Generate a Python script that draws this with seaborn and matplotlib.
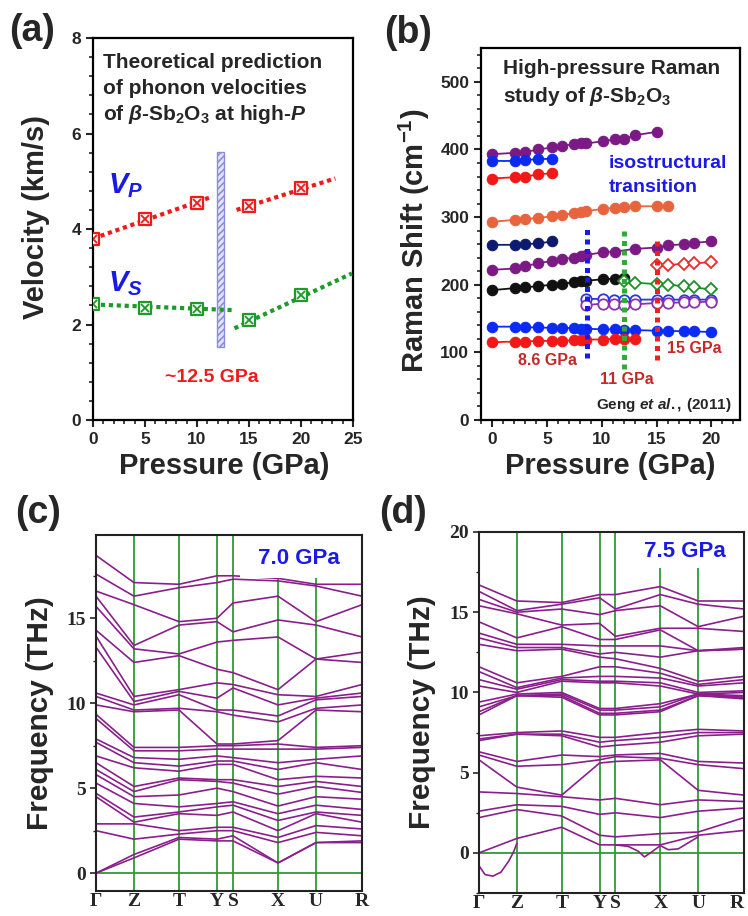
import numpy as np
import pandas as pd
import matplotlib
matplotlib.use("Agg")
import matplotlib.pyplot as plt
from matplotlib.patches import Rectangle
from matplotlib.ticker import MultipleLocator
import seaborn as sns

sns.set_style("ticks")
plt.rcParams["font.family"] = ["Liberation Sans", "DejaVu Sans"]
plt.rcParams["font.weight"] = "bold"
plt.rcParams["mathtext.fontset"] = "custom"
plt.rcParams["mathtext.rm"] = "Liberation Sans:bold"
plt.rcParams["mathtext.it"] = "Liberation Sans:bold:italic"
plt.rcParams["mathtext.bf"] = "Liberation Sans:bold"
plt.rcParams["hatch.linewidth"] = 1.2

# ---------------- (a) phonon velocities ----------------
pressure_a = [0, 5, 10, 15, 20]
v_p = [3.80, 4.20, 4.55, 4.48, 4.85]
v_s = [2.42, 2.35, 2.32, 2.10, 2.62]
# dotted trend segments (below / above the transition)
vp_fit_low_x, vp_fit_low_y = [0, 11.5], [3.80, 4.68]
vp_fit_high_x, vp_fit_high_y = [13.8, 23.3], [4.40, 5.06]
vs_fit_low_x, vs_fit_low_y = [0, 13.6], [2.42, 2.30]
vs_fit_high_x, vs_fit_high_y = [13.6, 24.9], [1.92, 3.07]
transition_p = 12.25
transition_v = [1.52, 5.62]

# ---------------- (b) Raman modes ----------------
p_r1 = [0, 2.1, 3.0, 4.2, 5.5, 6.4, 7.5, 8.1, 8.6, 10.1, 11.2, 12.0, 13.0, 15.0]
r1 = [393, 395, 396, 400, 403, 405, 408, 409, 409, 412, 415, 415, 421, 426]
p_r2 = [0, 2.1, 3.0, 4.2, 5.5]
r2 = [383, 383, 384, 386, 386]
r3 = [357, 359, 360, 363, 365]
r5 = [259, 259, 260, 261, 264]
p_r4 = [0, 2.1, 3.0, 4.2, 5.5, 6.4, 7.5, 8.1, 8.6, 10.1, 11.2, 12.0, 13.0, 15.0, 16.0]
r4 = [293, 296, 297, 299, 301, 303, 306, 307, 309, 312, 314, 315, 316, 316, 316]
p_r6 = [0, 2.1, 3.0, 4.2, 5.5, 6.4, 7.5, 8.1, 8.6, 10.1, 11.2, 13.0, 15.0, 16.0, 17.5, 18.4, 20.0]
r6 = [222, 224, 227, 232, 235, 238, 240, 242, 244, 248, 249, 253, 255, 258, 260, 262, 264]
p_r7 = [0, 2.1, 3.0, 4.2, 5.5, 6.4, 7.5, 8.1, 8.6, 10.1, 11.2, 12.0]
r7 = [192, 195, 196, 198, 200, 201, 204, 205, 206, 208, 209, 210]
p_r8 = [0, 2.1, 3.0, 4.2, 5.5, 6.4, 7.5, 8.1, 8.6, 10.1, 11.2, 12.0, 13.0, 15.0, 16.0, 17.5, 18.4, 20.0]
r8 = [138, 138, 137, 137, 136, 136, 136, 135, 135, 134, 134, 133, 133, 132, 132, 131, 131, 130]
p_r9 = [0, 2.1, 3.0, 4.2, 5.5, 6.4, 7.5, 8.1, 8.6, 10.1, 11.2, 12.0, 13.0]
r9 = [115, 116, 116, 117, 117, 117, 118, 119, 119, 119, 120, 120, 120]
p_open = [8.6, 10.1, 11.1, 12.0, 13.0, 15.0, 16.0, 17.5, 18.4, 20.0]
o1 = [179, 179, 178, 178, 178, 178, 178, 178, 178, 178]
o2 = [170, 172, 172, 170, 171, 173, 173, 174, 174, 175]
p_dia1 = [12.0, 13.0, 15.0, 16.0, 17.5, 18.4, 20.0]
dia1 = [205, 203, 201, 200, 198, 196, 193]
p_dia2 = [15.0, 16.0, 17.5, 18.4, 20.0]
dia2 = [229, 229, 231, 232, 233]
trans_p = [8.7, 12.0, 15.05]
trans_low = [91, 76, 89]
trans_high = [287, 283, 267]
trans_labels = ["8.6 GPa", "11 GPa", "15 GPa"]

# ---------------- (c)/(d) phonon dispersion ----------------
k_labels = ["Γ", "Z", "T", "Y", "S", "X", "U", "R"]
k_pos = [0, 38, 83, 121, 137, 182, 220, 266]

c_G = [18.7, 17.6, 16.6, 16.3, 15.7, 14.3, 13.95, 13.3, 10.6, 10.4, 9.9, 9.35, 9.1,
       7.9, 7.7, 6.9, 6.5, 6.1, 5.8, 5.3, 4.7, 4.5, 2.9, 2.5, 0.0, 0.0]
c_Z = [17.1, 16.3, 15.8, 13.4, 13.2, 12.4, 10.4, 10.1, 9.9, 9.6, 9.5, 7.4, 7.2,
       6.8, 6.5, 6.2, 5.1, 4.8, 4.5, 4.1, 3.3, 3.0, 2.9, 2.0, 1.1, 0.9]
c_T = [17.0, 16.8, 14.8, 14.6, 12.9, 12.8, 10.8, 10.7, 10.5, 9.7, 9.6, 7.4, 7.2,
       6.7, 6.3, 6.0, 5.6, 5.5, 4.6, 3.9, 3.6, 3.5, 2.5, 2.3, 2.1, 2.0]
c_Y = [17.5, 17.1, 15.0, 14.8, 13.6, 12.0, 11.2, 10.3, 9.6, 9.5, 7.6, 7.5, 7.3,
       6.9, 6.6, 6.4, 5.5, 5.4, 5.0, 4.1, 3.9, 3.4, 2.7, 2.5, 2.0, 1.9]
c_S = [17.5, 17.3, 15.9, 14.2, 13.7, 11.8, 11.1, 10.9, 9.6, 9.3, 7.6, 7.5, 7.3,
       6.8, 6.6, 6.4, 5.5, 5.3, 4.8, 4.2, 4.0, 3.6, 2.7, 2.5, 2.2, 1.9]
c_X = [17.35, 17.2, 16.3, 14.9, 13.9, 10.8, 10.5, 9.9, 9.25, 8.9, 7.8, 7.6, 7.3,
       6.5, 6.1, 5.5, 5.1, 4.65, 3.95, 3.5, 3.1, 2.5, 2.1, 1.8, 0.6, 0.6]
c_U = [17.0, 16.9, 14.8, 14.6, 12.6, 12.6, 10.4, 10.3, 10.2, 9.7, 9.6, 7.4, 7.3,
       6.7, 6.5, 5.7, 5.4, 5.1, 4.5, 4.0, 3.6, 3.5, 2.8, 2.4, 1.8, 1.8]
c_R = [17.0, 16.3, 15.8, 13.9, 13.0, 12.4, 11.1, 10.6, 10.4, 9.9, 9.5, 7.5, 7.4,
       6.9, 6.1, 5.6, 5.1, 4.75, 4.35, 3.75, 3.4, 3.0, 2.6, 2.2, 1.9, 1.8]

d_G = [16.7, 16.3, 15.8, 15.4, 14.4, 13.7, 13.4, 13.0, 11.6, 11.3, 10.8, 10.4, 9.4,
       9.1, 8.8, 8.6, 7.3, 7.1, 7.0, 6.3, 6.1, 5.8, 3.8, 2.6, 2.2, 0.0]
d_Z = [15.7, 15.1, 15.0, 14.9, 13.4, 13.0, 12.8, 12.6, 10.6, 10.3, 10.2, 10.0, 9.9,
       9.8, 9.8, 9.8, 7.5, 7.4, 7.4, 5.7, 5.4, 4.1, 3.7, 3.0, 2.7, 0.9]
d_T = [15.6, 15.5, 15.2, 14.2, 14.1, 13.0, 12.8, 12.7, 11.0, 10.9, 10.8, 10.7, 10.0,
       9.9, 9.8, 9.7, 7.6, 7.4, 7.3, 6.1, 5.5, 3.6, 3.5, 2.9, 2.3, 1.6]
d_Y = [16.1, 15.9, 14.85, 14.3, 13.3, 12.9, 12.4, 12.2, 11.6, 11.0, 10.7, 10.6, 9.0,
       8.9, 8.7, 8.6, 7.2, 6.9, 6.6, 6.0, 5.8, 5.6, 3.3, 2.4, 1.1, 0.5]
d_S = [16.1, 15.2, 15.1, 13.5, 13.3, 12.9, 12.5, 12.1, 11.6, 11.0, 10.7, 10.6, 9.0,
       8.9, 8.7, 8.6, 7.2, 7.0, 6.7, 6.1, 6.0, 5.7, 3.4, 2.5, 1.0, 0.5]
d_X = [16.6, 16.1, 15.4, 14.0, 13.9, 12.9, 12.2, 11.5, 11.2, 10.9, 10.6, 10.4, 9.3,
       9.1, 8.9, 8.8, 7.5, 7.2, 6.9, 6.2, 5.9, 5.8, 3.0, 2.2, 1.2, 0.5]
d_U = [15.7, 15.5, 14.1, 14.0, 12.6, 12.6, 12.6, 10.7, 10.5, 10.4, 10.0, 9.9, 9.9,
       9.9, 9.8, 9.8, 7.7, 7.5, 7.3, 5.7, 5.5, 3.9, 3.3, 2.6, 1.3, 1.1]
d_R = [15.7, 15.2, 14.75, 13.8, 12.8, 12.7, 12.7, 11.0, 10.8, 10.6, 10.1, 10.0, 9.8,
       9.7, 9.7, 9.6, 7.6, 7.5, 7.4, 5.6, 5.25, 3.6, 3.2, 2.8, 2.2, 1.4]
# soft (imaginary) branches at 7.5 GPa
d_soft1_k = [0, 6, 14, 22, 30, 35, 38]
d_soft1_f = [-0.8, -1.35, -1.45, -1.2, -0.5, 0.1, 0.6]
d_soft2_k = [137, 150, 160, 166, 172, 182, 190, 200, 220]
d_soft2_f = [0.5, 0.4, 0.1, -0.25, 0.0, 0.45, 0.2, 0.25, 1.0]

BAND = "#8a1f8c"
GRID = "#2e9a35"
RED = "#f01a1a"
GREEN = "#1f9a2a"
BLUE = "#1a1ae6"

fig = plt.figure(figsize=(7.48, 9.16), dpi=100)
W, H = 748.0, 916.0


def axes_px(left, top, right, bottom):
    return fig.add_axes([left / W, 1 - bottom / H, (right - left) / W, (bottom - top) / H])


def style_frame(ax, lw=1.6, color="black"):
    for s in ax.spines.values():
        s.set_visible(True)
        s.set_linewidth(lw)
        s.set_color(color)


# ======== (a) ========
axA = axes_px(93, 38, 353, 420)
style_frame(axA)
axA.set_xlim(0, 25)
axA.set_ylim(0, 8)
axA.xaxis.set_major_locator(MultipleLocator(5))
axA.xaxis.set_minor_locator(MultipleLocator(1))
axA.yaxis.set_major_locator(MultipleLocator(2))
axA.yaxis.set_minor_locator(MultipleLocator(0.4))
axA.tick_params(which="major", direction="out", length=5, width=1.5, labelsize=12.5)
axA.tick_params(which="minor", direction="out", length=3, width=1.2)

axA.bar([transition_p], [transition_v[1] - transition_v[0]], bottom=transition_v[0],
        width=0.6, color="#e4e4f8", edgecolor="#8c8cdc", hatch="/////", lw=1.0, zorder=2)
dots = dict(ls=(0, (1, 0.9)), lw=3.0)
for xs, ys, col in [(vp_fit_low_x, vp_fit_low_y, RED), (vp_fit_high_x, vp_fit_high_y, RED),
                    (vs_fit_low_x, vs_fit_low_y, GREEN), (vs_fit_high_x, vs_fit_high_y, GREEN)]:
    axA.plot(xs, ys, color=col, zorder=3, **dots)
for vals, col in [(v_p, RED), (v_s, GREEN)]:
    sns.scatterplot(x=pressure_a, y=vals, ax=axA, marker="s", s=70, facecolor="#f4f4f4",
                    edgecolor=col, linewidth=1.6, zorder=4, legend=False)
    axA.plot(pressure_a, vals, ls="none", marker="x", ms=5.5, mew=1.3, color=col, zorder=5)
axA.set_xlabel("")
axA.set_ylabel("")

for txt, yv in [("Theoretical prediction", 7.48), ("of phonon velocities", 6.95),
                (r"of $\beta$-Sb$_2$O$_3$ at high-$P$", 6.39)]:
    axA.text(0.95, yv, txt, fontsize=15, fontweight="bold", ha="left", va="center")
axA.text(3.1, 4.9, r"$V_P$", color=BLUE, fontsize=21, ha="center", va="center")
axA.text(3.1, 2.85, r"$V_S$", color=BLUE, fontsize=21, ha="center", va="center")
axA.text(11.4, 0.88, "~12.5 GPa", color=RED, fontsize=14, fontweight="bold",
         ha="center", va="center")

# ======== (b) ========
axB = axes_px(481, 48, 740, 420)
style_frame(axB)
axB.set_xlim(-1, 22.6)
axB.set_ylim(0, 550)
axB.xaxis.set_major_locator(MultipleLocator(5))
axB.xaxis.set_minor_locator(MultipleLocator(1))
axB.yaxis.set_major_locator(MultipleLocator(100))
axB.yaxis.set_minor_locator(MultipleLocator(20))
axB.tick_params(which="major", direction="out", length=5, width=1.5, labelsize=12.5)
axB.tick_params(which="minor", direction="out", length=3, width=1.2)

filled = [
    (p_r1, r1, "#7b1a85", "o"), (p_r2, r2, "#0b2bf5", "o"), (p_r2, r3, "#f21818", "o"),
    (p_r4, r4, "#e8643e", "o"), (p_r2, r5, "#0c1b70", "o"), (p_r6, r6, "#7b1a85", "o"),
    (p_r7, r7, "#111111", "o"), (p_r8, r8, "#0b2bf5", "o"), (p_r9, r9, "#f21818", "o"),
]
for px, ry, col, mk in filled:
    sns.lineplot(x=px, y=ry, ax=axB, color=col, lw=1.3, marker=mk, markersize=7.5,
                 markerfacecolor=col, markeredgecolor=col, markeredgewidth=0.8,
                 estimator=None, sort=False, zorder=3)
hollow = [
    (p_open, o1, "#2a3ad6", "o"), (p_open, o2, "#9030b0", "o"),
    (p_dia1, dia1, "#1f8f2a", "D"), (p_dia2, dia2, "#f02a2a", "D"),
]
for px, ry, col, mk in hollow:
    sns.lineplot(x=px, y=ry, ax=axB, color=col, lw=1.3, marker=mk,
                 markersize=7.5 if mk == "o" else 6.5,
                 markerfacecolor="white", markeredgecolor=col, markeredgewidth=1.3,
                 estimator=None, sort=False, zorder=3)
for tp, lo, hi, col in zip(trans_p, trans_low, trans_high, ["#1a1aee", "#33aa33", "#f02020"]):
    axB.plot([tp, tp], [lo, hi], color=col, lw=3.6, ls=(0, (1, 0.9)), zorder=5)
axB.set_xlabel("")
axB.set_ylabel("")

axB.text(1.0, 519, "High-pressure Raman", fontsize=15, fontweight="bold", ha="left", va="center")
axB.text(1.0, 479, r"study of $\beta$-Sb$_2$O$_3$", fontsize=15, fontweight="bold",
         ha="left", va="center")
axB.text(10.6, 379, "isostructural", color=BLUE, fontsize=14, fontweight="bold",
         ha="left", va="center")
axB.text(10.6, 344, "transition", color=BLUE, fontsize=14, fontweight="bold",
         ha="left", va="center")
for (lx, ly), lab in zip([(5.1, 88), (12.3, 60), (18.45, 106)], trans_labels):
    axB.text(lx, ly, lab, color="#c62828", fontsize=11.5, fontweight="bold",
             ha="center", va="center")
axB.text(21.8, 22, r"Geng $\mathit{et\ al.,}\,$(2011)", fontsize=11, fontweight="bold",
         ha="right", va="center")


# ======== (c) & (d) ========
def band_frame(columns):
    rows = []
    for b in range(len(columns[0])):
        for k, col in zip(k_pos, columns):
            rows.append((b, k, col[b]))
    return pd.DataFrame(rows, columns=["band", "k", "freq"])


def dispersion(ax, columns, ylim, yticks, label, box_x0, box_y0):
    style_frame(ax, lw=1.5, color="#222222")
    df = band_frame(columns)
    sns.lineplot(data=df, x="k", y="freq", units="band", estimator=None, sort=False,
                 color=BAND, lw=1.2, ax=ax, legend=False, zorder=2)
    for kp in k_pos[1:-1]:
        ax.axvline(kp, color=GRID, lw=1.3, zorder=1.5)
    ax.axhline(0, color=GRID, lw=1.3, zorder=1.5)
    ax.add_patch(Rectangle((box_x0, box_y0), 1 - box_x0, 1 - box_y0, transform=ax.transAxes,
                           facecolor="white", edgecolor="none", zorder=2.3))
    ax.text(box_x0 + (1 - box_x0) * 0.48, box_y0 + (1 - box_y0) * 0.45, label, color=BLUE,
            fontsize=16, fontweight="bold", ha="center", va="center", transform=ax.transAxes,
            zorder=3)
    ax.set_xlim(k_pos[0], k_pos[-1])
    ax.set_ylim(*ylim)
    ax.set_xticks(k_pos, k_labels, fontfamily="Liberation Serif", fontweight="bold", fontsize=14)
    ax.set_yticks(yticks, [str(v) for v in yticks], fontfamily="Liberation Serif",
                  fontweight="bold", fontsize=14)
    ax.yaxis.set_minor_locator(MultipleLocator(2.5))
    ax.tick_params(axis="x", length=0, pad=1.5)
    ax.tick_params(axis="y", which="major", direction="out", length=4, width=1.2)
    ax.tick_params(axis="y", which="minor", direction="out", length=2.5, width=1.0)
    ax.set_xlabel("")
    ax.set_ylabel("")


axC = axes_px(96, 535, 362, 891)
dispersion(axC, [c_G, c_Z, c_T, c_Y, c_S, c_X, c_U, c_R], (-1.05, 19.9), [0, 5, 10, 15],
           "7.0 GPa", 0.541, 0.88)

axD = axes_px(479, 532, 744, 893)
dispersion(axD, [d_G, d_Z, d_T, d_Y, d_S, d_X, d_U, d_R], (-2.5, 20), [0, 5, 10, 15, 20],
           "7.5 GPa", 0.57, 0.90)
sns.lineplot(x=d_soft1_k, y=d_soft1_f, ax=axD, color=BAND, lw=1.2, estimator=None, sort=False)
sns.lineplot(x=d_soft2_k, y=d_soft2_f, ax=axD, color=BAND, lw=1.2, estimator=None, sort=False)
axD.set_xlabel("")
axD.set_ylabel("")
# keep the last point label inside the figure edge
axD.get_xticklabels()[-1].set_horizontalalignment("right")

# ---------------- axis titles and panel letters ----------------
def ftext(x, y, s, **kw):
    fig.text(x / W, 1 - y / H, s, ha="center", va="center", fontweight="bold", **kw)


ftext(36, 217, "Velocity (km/s)", fontsize=21, rotation=90)
ftext(414, 241, r"Raman Shift (cm$^{\mathregular{-1}}$)", fontsize=21, rotation=90)
ftext(224, 466, "Pressure (GPa)", fontsize=21)
ftext(610, 466, "Pressure (GPa)", fontsize=21)
ftext(40, 713, "Frequency (THz)", fontsize=21.5, rotation=90)
ftext(422, 712, "Frequency (THz)", fontsize=21.5, rotation=90)

for x, y, s in [(32, 31, "(a)"), (408, 33, "(b)"), (38, 513, "(c)"), (403, 513, "(d)")]:
    ftext(x, y, s, fontsize=27)

fig.savefig("out.png", dpi=100)
